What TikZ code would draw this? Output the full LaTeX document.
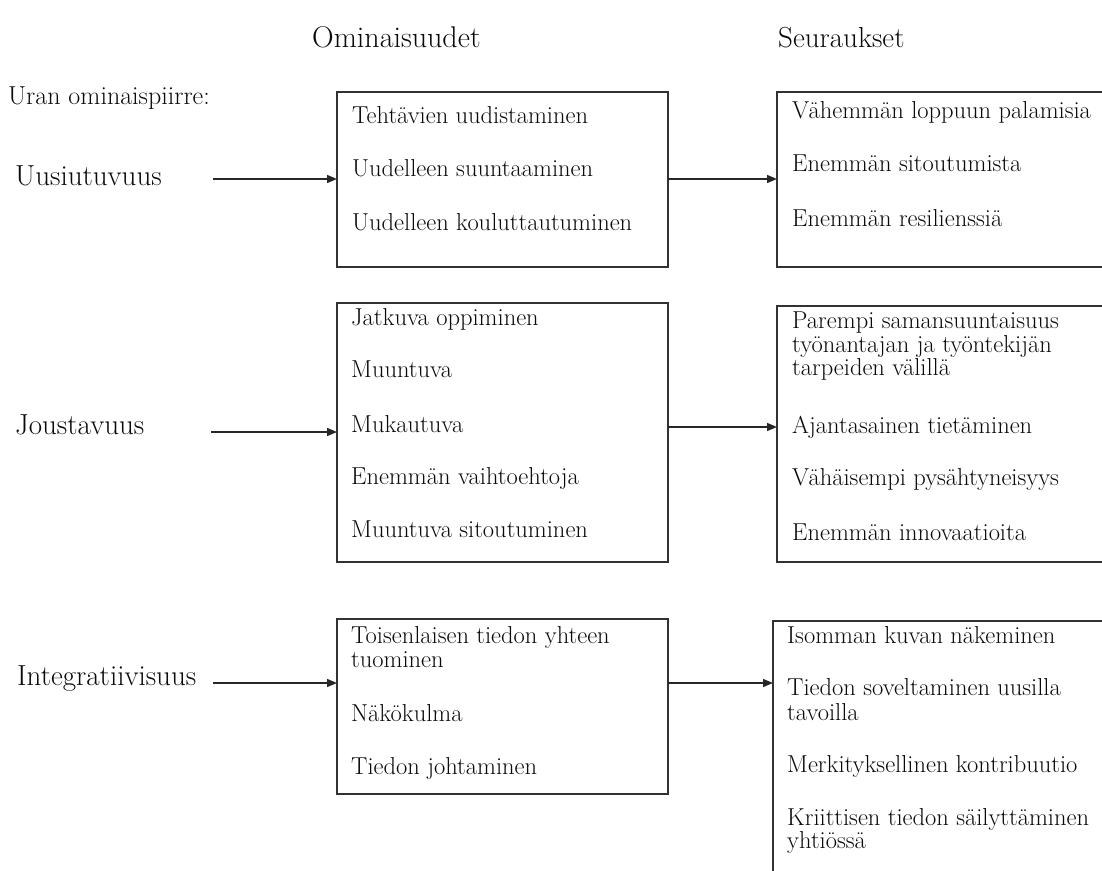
\documentclass[tikz,border=0pt]{standalone}
\usepackage{fontspec}
\usepackage{xcolor}
\definecolor{LineGray}{RGB}{50,50,50}
\definecolor{TextBlack}{RGB}{10,10,10}
\usetikzlibrary{positioning,arrows.meta}

\begin{document}
\begin{tikzpicture}[x=1pt, y=-1pt,
    bx/.style={rectangle, draw=LineGray, line width=1.5pt, inner sep=0pt, outer sep=0pt, anchor=north west},
    it/.style={inner sep=0pt, align=left, text=TextBlack, font=\fontsize{24.5}{23.5}\selectfont},
    lb/.style={inner sep=0pt, anchor=base west, text=TextBlack, font=\fontsize{29}{29}\selectfont},
    a/.style={-{Triangle[length=10pt, width=8pt]}, line width=1.4pt, draw=black!85}
]
    \useasboundingbox (0,0) rectangle (1102,870);
    \clip (0,0) rectangle (1102,870);

    % headings
    \node[lb, font=\fontsize{30}{30}\selectfont] (h1) at (312,47) {Ominaisuudet};
    \node[lb] (h2) at (778,47) {Seuraukset};
    \node[lb, font=\fontsize{26}{26}\selectfont] (ttl) at (8,104) {Uran ominaispiirre:};

    % traits
    \node[lb] (l1) at (15,185) {Uusiutuvuus};
    \node[lb] (l2) at (15,434) {Joustavuus};
    \node[lb] (l3) at (17,685) {Integratiivisuus};

    % boxes
    \node[bx, minimum width=331pt, minimum height=175pt] (p1) at (337,92) {};
    \node[bx, minimum width=360pt, minimum height=175pt] (c1) at (777,92) {};
    \node[bx, minimum width=331pt, minimum height=259pt] (p2) at (337,303) {};
    \node[bx, minimum width=360pt, minimum height=256pt] (c2) at (777,306) {};
    \node[bx, minimum width=331pt, minimum height=175pt] (p3) at (337,619) {};
    \node[bx, minimum width=360pt, minimum height=290pt] (c3) at (773,621) {};

    \node[it, below right=14pt and 15pt of p1.north west] (p1t)
        {Tehtävien uudistaminen\\[30pt]Uudelleen suuntaaminen\\[30pt]Uudelleen kouluttautuminen};
    \node[it, below right=9pt and 15pt of c1.north west] (c1t)
        {Vähemmän loppuun palamisia\\[30pt]Enemmän sitoutumista\\[31pt]Enemmän resilienssiä};
    \node[it, below right=5pt and 14pt of p2.north west] (p2t)
        {Jatkuva oppiminen\\[29pt]Muuntuva\\[31pt]Mukautuva\\[29pt]Enemmän vaihtoehtoja\\[29pt]Muuntuva sitoutuminen};
    \node[it, below right=6pt and 15pt of c2.north west] (c2t)
        {Parempi samansuuntaisuus\\työnantajan ja työntekijän\\tarpeiden välillä\\[34pt]Ajantasainen tietäminen\\[29pt]Vähäisempi pysähtyneisyys\\[31pt]Enemmän innovaatioita};
    \node[it, below right=7pt and 14pt of p3.north west] (p3t)
        {Toisenlaisen tiedon yhteen\\[1pt]tuominen\\[30pt]Näkökulma\\[30pt]Tiedon johtaminen};
    \node[it, below right=5pt and 14pt of c3.north west] (c3t)
        {Isomman kuvan näkeminen\\[29pt]Tiedon soveltaminen uusilla\\[1pt]tavoilla\\[29pt]Merkityksellinen kontribuutio\\[29pt]Kriittisen tiedon säilyttäminen\\[0pt]yhtiössä};

    % arrows
    \coordinate (s1) at (213,179);
    \coordinate (s2) at (211,432);
    \coordinate (s3) at (213,683);
    \draw[a] (s1) -- (s1 -| p1.west);
    \draw[a] (s2) -- (s2 -| p2.west);
    \draw[a] (s3) -- (s3 -| p3.west);
    \draw[a] (s1 -| p1.east) -- (s1 -| c1.west);
    \draw[a] ([yshift=5.5pt]p2.east) -- ([yshift=5.5pt]p2.east -| c2.west);
    \draw[a] (s3 -| p3.east) -- (s3 -| c3.west);
\end{tikzpicture}
\end{document}
